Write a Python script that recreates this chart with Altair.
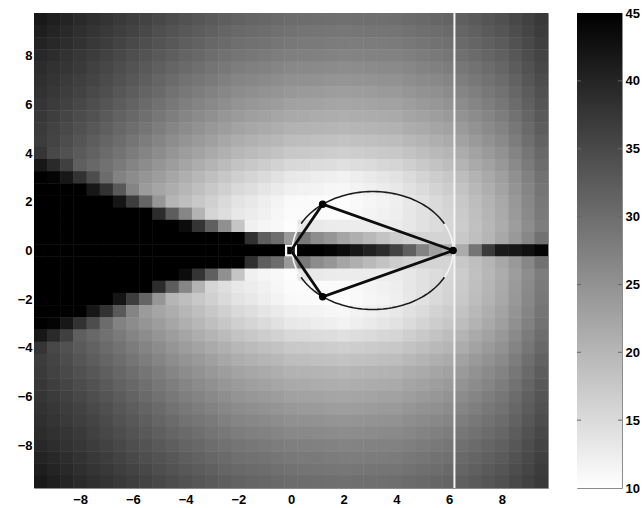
import altair as alt
import numpy as np
import pandas as pd

# ---- grid of the field (cell centres, 0.5 spacing) ----
x_centers = [-9.5, -9.0, -8.5, -8.0, -7.5, -7.0, -6.5, -6.0, -5.5, -5.0, -4.5, -4.0, -3.5,
             -3.0, -2.5, -2.0, -1.5, -1.0, -0.5, 0.0, 0.5, 1.0, 1.5, 2.0, 2.5, 3.0, 3.5,
             4.0, 4.5, 5.0, 5.5, 6.0, 6.5, 7.0, 7.5, 8.0, 8.5, 9.0, 9.5]
y_centers = [9.5, 9.0, 8.5, 8.0, 7.5, 7.0, 6.5, 6.0, 5.5, 5.0, 4.5, 4.0, 3.5, 3.0, 2.5,
             2.0, 1.5, 1.0, 0.5, 0.0, -0.5, -1.0, -1.5, -2.0, -2.5, -3.0, -3.5, -4.0,
             -4.5, -5.0, -5.5, -6.0, -6.5, -7.0, -7.5, -8.0, -8.5, -9.0, -9.5]
# half cell size; a hair over 0.25 so neighbouring cells overlap and leave no seams
cell_half = 0.26

# field values, one list per row (top row first)
v_p95 = [41.6, 40.8, 40.0, 39.2, 38.5, 37.9, 37.2, 36.5, 35.8, 35.1, 34.4, 33.7, 33.2, 32.6, 32.1, 31.5, 31.2, 30.9, 30.5, 30.2, 30.0, 29.9, 29.7, 29.6, 29.7, 29.8, 29.8, 29.9, 30.3, 30.6, 31.0, 31.3, 32.0, 32.6, 33.3, 34.0, 35.1, 36.1, 37.2]
v_p90 = [40.9, 40.1, 39.4, 38.6, 37.9, 37.2, 36.5, 35.8, 35.1, 34.3, 33.6, 32.9, 32.4, 31.8, 31.2, 30.6, 30.3, 30.0, 29.6, 29.3, 29.1, 29.0, 28.8, 28.7, 28.8, 28.9, 28.9, 29.0, 29.4, 29.7, 30.1, 30.5, 31.2, 31.8, 32.6, 33.3, 34.4, 35.5, 36.7]
v_p85 = [40.2, 39.5, 38.8, 38.1, 37.3, 36.6, 35.8, 35.0, 34.3, 33.6, 32.9, 32.1, 31.5, 30.9, 30.4, 29.8, 29.5, 29.2, 28.8, 28.5, 28.3, 28.2, 28.0, 27.8, 27.9, 28.0, 28.0, 28.1, 28.5, 28.9, 29.3, 29.6, 30.4, 31.1, 31.8, 32.5, 33.8, 35.0, 36.2]
v_p80 = [39.5, 38.8, 38.2, 37.5, 36.7, 35.9, 35.1, 34.3, 33.6, 32.8, 32.1, 31.3, 30.7, 30.1, 29.5, 28.9, 28.6, 28.3, 27.9, 27.6, 27.4, 27.3, 27.1, 26.9, 27.0, 27.1, 27.1, 27.2, 27.6, 28.0, 28.4, 28.8, 29.6, 30.3, 31.1, 31.8, 33.1, 34.4, 35.7]
v_p75 = [39.0, 38.3, 37.7, 37.0, 36.1, 35.3, 34.4, 33.6, 32.8, 32.0, 31.2, 30.4, 29.7, 29.1, 28.5, 27.9, 27.5, 27.2, 26.8, 26.4, 26.2, 26.1, 25.9, 25.7, 25.8, 25.9, 26.0, 26.1, 26.5, 27.0, 27.4, 27.8, 28.6, 29.4, 30.2, 31.0, 32.4, 33.7, 35.1]
v_p70 = [38.6, 37.9, 37.1, 36.4, 35.6, 34.7, 33.8, 32.9, 32.1, 31.2, 30.3, 29.4, 28.8, 28.2, 27.5, 26.8, 26.5, 26.1, 25.6, 25.3, 25.1, 24.9, 24.7, 24.5, 24.7, 24.8, 24.9, 25.0, 25.5, 25.9, 26.3, 26.8, 27.7, 28.5, 29.4, 30.2, 31.6, 33.1, 34.5]
v_p65 = [38.1, 37.4, 36.6, 35.9, 35.0, 34.1, 33.1, 32.2, 31.3, 30.4, 29.4, 28.5, 27.8, 27.2, 26.5, 25.8, 25.4, 25.0, 24.5, 24.1, 23.9, 23.7, 23.5, 23.3, 23.5, 23.6, 23.8, 23.9, 24.4, 24.9, 25.3, 25.8, 26.7, 27.6, 28.5, 29.4, 30.9, 32.4, 33.9]
v_p60 = [37.7, 36.9, 36.1, 35.3, 34.3, 33.4, 32.4, 31.4, 30.5, 29.5, 28.5, 27.6, 26.9, 26.2, 25.5, 24.7, 24.3, 23.9, 23.4, 22.9, 22.7, 22.6, 22.4, 22.2, 22.4, 22.5, 22.7, 22.8, 23.3, 23.8, 24.3, 24.8, 25.8, 26.7, 27.7, 28.6, 30.2, 31.8, 33.3]
v_p55 = [37.4, 36.5, 35.5, 34.6, 33.7, 32.6, 31.6, 30.7, 29.7, 28.7, 27.7, 26.7, 25.9, 25.2, 24.4, 23.7, 23.2, 22.7, 22.2, 21.8, 21.6, 21.4, 21.2, 21.0, 21.2, 21.4, 21.5, 21.7, 22.3, 22.8, 23.3, 23.8, 24.8, 25.8, 26.8, 27.8, 29.4, 31.1, 32.8]
v_p50 = [37.0, 36.0, 35.0, 34.0, 33.0, 31.9, 30.9, 29.9, 28.9, 27.8, 26.8, 25.8, 25.0, 24.2, 23.4, 22.6, 22.1, 21.6, 21.1, 20.6, 20.4, 20.3, 20.1, 19.9, 20.1, 20.3, 20.4, 20.6, 21.2, 21.7, 22.3, 22.8, 23.9, 24.9, 26.0, 27.0, 28.7, 30.5, 32.2]
v_p45 = [36.7, 35.6, 34.5, 33.3, 32.3, 31.1, 30.1, 29.0, 27.9, 26.8, 25.7, 24.7, 23.8, 23.0, 22.1, 21.3, 20.7, 20.2, 19.7, 19.1, 18.9, 18.7, 18.5, 18.3, 18.5, 18.7, 18.9, 19.1, 19.8, 20.3, 21.0, 21.5, 22.7, 23.8, 24.9, 26.0, 27.8, 29.7, 31.5]
v_p40 = [37.7, 35.1, 33.9, 32.6, 31.5, 30.3, 29.2, 28.0, 26.9, 25.8, 24.6, 23.5, 22.6, 21.7, 20.8, 19.9, 19.3, 18.8, 18.2, 17.6, 17.4, 17.1, 16.9, 16.6, 16.9, 17.1, 17.4, 17.6, 18.3, 18.9, 19.6, 20.2, 21.4, 22.6, 23.8, 25.0, 26.9, 28.8, 30.7]
v_p35 = [41.8, 39.3, 36.2, 32.0, 30.7, 29.5, 28.2, 26.9, 25.8, 24.6, 23.4, 22.3, 21.3, 20.3, 19.3, 18.3, 17.6, 16.9, 16.2, 15.4, 15.2, 14.8, 14.6, 14.2, 14.7, 15.0, 15.5, 15.8, 16.6, 17.4, 18.2, 19.0, 20.3, 21.6, 22.8, 24.1, 26.1, 28.1, 30.1]
v_p30 = [45.0, 44.5, 41.9, 38.2, 34.4, 30.2, 27.2, 25.8, 24.6, 23.4, 22.2, 21.0, 19.9, 18.8, 17.7, 16.6, 15.8, 14.9, 14.1, 13.2, 12.9, 12.5, 12.2, 11.8, 12.4, 12.9, 13.5, 14.0, 14.9, 15.9, 16.8, 17.7, 19.1, 20.5, 21.8, 23.2, 25.3, 27.3, 29.4]
v_p25 = [45.0, 45.0, 45.0, 45.0, 41.8, 38.1, 32.8, 26.9, 23.7, 22.4, 21.2, 20.0, 18.8, 17.6, 16.4, 15.2, 14.5, 13.6, 12.9, 12.0, 11.8, 11.6, 11.3, 11.1, 11.6, 12.1, 12.6, 13.1, 14.1, 15.0, 16.0, 16.9, 18.3, 19.8, 21.1, 22.6, 24.7, 26.8, 29.0]
v_p20 = [45.0, 45.0, 45.0, 45.0, 45.0, 45.0, 42.1, 36.6, 31.1, 24.4, 20.2, 18.9, 17.6, 16.4, 15.1, 13.8, 13.1, 12.3, 11.6, 10.8, 10.7, 10.6, 10.4, 10.3, 10.8, 11.3, 11.7, 12.2, 13.2, 14.1, 15.1, 16.0, 17.5, 19.0, 20.4, 21.9, 24.1, 26.3, 28.5]
v_p15 = [45.0, 45.0, 45.0, 45.0, 45.0, 45.0, 45.0, 45.0, 45.0, 39.0, 32.3, 26.6, 20.5, 15.8, 14.5, 13.2, 12.6, 11.9, 11.3, 10.6, 10.6, 10.6, 10.5, 10.5, 11.0, 11.5, 11.9, 12.4, 13.3, 14.1, 15.0, 15.8, 17.3, 18.8, 20.2, 21.7, 23.8, 26.0, 28.2]
v_p10 = [45.0, 45.0, 45.0, 45.0, 45.0, 45.0, 45.0, 45.0, 45.0, 45.0, 45.0, 43.3, 37.8, 31.9, 25.2, 17.9, 12.0, 11.4, 10.9, 10.3, 13.5, 13.0, 12.8, 12.6, 12.6, 12.6, 12.6, 12.8, 13.3, 14.1, 14.8, 15.5, 17.0, 18.5, 19.9, 21.4, 23.5, 25.7, 27.8]
v_p05 = [45.0, 45.0, 45.0, 45.0, 45.0, 45.0, 45.0, 45.0, 45.0, 45.0, 45.0, 45.0, 45.0, 45.0, 45.0, 45.0, 38.4, 32.1, 30.0, 24.0, 28.5, 25.8, 24.4, 22.4, 21.0, 19.6, 18.2, 16.9, 16.2, 15.9, 15.9, 15.9, 17.5, 18.8, 20.2, 22.0, 24.0, 26.5, 29.5]
v_000 = [45.0, 45.0, 45.0, 45.0, 45.0, 45.0, 45.0, 45.0, 45.0, 45.0, 45.0, 45.0, 45.0, 45.0, 45.0, 45.0, 45.0, 45.0, 45.0, 45.0, 45.0, 45.0, 44.5, 43.5, 42.0, 40.5, 39.0, 36.0, 32.0, 27.0, 23.0, 21.0, 21.5, 29.0, 37.0, 41.5, 42.0, 43.0, 44.5]
v_m05 = [45.0, 45.0, 45.0, 45.0, 45.0, 45.0, 45.0, 45.0, 45.0, 45.0, 45.0, 45.0, 45.0, 45.0, 45.0, 45.0, 38.4, 32.1, 30.0, 24.0, 28.5, 25.8, 24.4, 22.4, 21.0, 19.6, 18.2, 16.9, 16.2, 15.9, 15.9, 15.9, 17.5, 18.8, 20.2, 22.0, 24.0, 26.5, 29.5]
v_m10 = [45.0, 45.0, 45.0, 45.0, 45.0, 45.0, 45.0, 45.0, 45.0, 45.0, 45.0, 43.3, 37.8, 31.9, 25.2, 17.9, 12.0, 11.4, 10.9, 10.3, 13.5, 13.0, 12.8, 12.6, 12.6, 12.6, 12.6, 12.8, 13.3, 14.1, 14.8, 15.5, 17.0, 18.5, 19.9, 21.4, 23.5, 25.7, 27.8]
v_m15 = [45.0, 45.0, 45.0, 45.0, 45.0, 45.0, 45.0, 45.0, 45.0, 39.0, 32.3, 26.6, 20.5, 15.8, 14.5, 13.2, 12.6, 11.9, 11.3, 10.6, 10.6, 10.6, 10.5, 10.5, 11.0, 11.5, 11.9, 12.4, 13.3, 14.1, 15.0, 15.8, 17.3, 18.8, 20.2, 21.7, 23.8, 26.0, 28.2]
v_m20 = [45.0, 45.0, 45.0, 45.0, 45.0, 45.0, 42.1, 36.6, 31.1, 24.4, 20.2, 18.9, 17.6, 16.4, 15.1, 13.8, 13.1, 12.3, 11.6, 10.8, 10.7, 10.6, 10.4, 10.3, 10.8, 11.3, 11.7, 12.2, 13.2, 14.1, 15.1, 16.0, 17.5, 19.0, 20.4, 21.9, 24.1, 26.3, 28.5]
v_m25 = [45.0, 45.0, 45.0, 45.0, 41.8, 38.1, 32.8, 26.9, 23.7, 22.4, 21.2, 20.0, 18.8, 17.6, 16.4, 15.2, 14.5, 13.6, 12.9, 12.0, 11.8, 11.6, 11.3, 11.1, 11.6, 12.1, 12.6, 13.1, 14.1, 15.0, 16.0, 16.9, 18.3, 19.8, 21.1, 22.6, 24.7, 26.8, 29.0]
v_m30 = [45.0, 44.5, 41.9, 38.2, 34.4, 30.2, 27.2, 25.8, 24.6, 23.4, 22.2, 21.0, 19.9, 18.8, 17.7, 16.6, 15.8, 14.9, 14.1, 13.2, 12.9, 12.5, 12.2, 11.8, 12.4, 12.9, 13.5, 14.0, 14.9, 15.9, 16.8, 17.7, 19.1, 20.5, 21.8, 23.2, 25.3, 27.3, 29.4]
v_m35 = [41.8, 39.3, 36.2, 32.0, 30.7, 29.5, 28.2, 26.9, 25.8, 24.6, 23.4, 22.3, 21.3, 20.3, 19.3, 18.3, 17.6, 16.9, 16.2, 15.4, 15.2, 14.8, 14.6, 14.2, 14.7, 15.0, 15.5, 15.8, 16.6, 17.4, 18.2, 19.0, 20.3, 21.6, 22.8, 24.1, 26.1, 28.1, 30.1]
v_m40 = [37.7, 35.1, 33.9, 32.6, 31.5, 30.3, 29.2, 28.0, 26.9, 25.8, 24.6, 23.5, 22.6, 21.7, 20.8, 19.9, 19.3, 18.8, 18.2, 17.6, 17.4, 17.1, 16.9, 16.6, 16.9, 17.1, 17.4, 17.6, 18.3, 18.9, 19.6, 20.2, 21.4, 22.6, 23.8, 25.0, 26.9, 28.8, 30.7]
v_m45 = [36.7, 35.6, 34.5, 33.3, 32.3, 31.1, 30.1, 29.0, 27.9, 26.8, 25.7, 24.7, 23.8, 23.0, 22.1, 21.3, 20.7, 20.2, 19.7, 19.1, 18.9, 18.7, 18.5, 18.3, 18.5, 18.7, 18.9, 19.1, 19.8, 20.3, 21.0, 21.5, 22.7, 23.8, 24.9, 26.0, 27.8, 29.7, 31.5]
v_m50 = [37.0, 36.0, 35.0, 34.0, 33.0, 31.9, 30.9, 29.9, 28.9, 27.8, 26.8, 25.8, 25.0, 24.2, 23.4, 22.6, 22.1, 21.6, 21.1, 20.6, 20.4, 20.3, 20.1, 19.9, 20.1, 20.3, 20.4, 20.6, 21.2, 21.7, 22.3, 22.8, 23.9, 24.9, 26.0, 27.0, 28.7, 30.5, 32.2]
v_m55 = [37.4, 36.5, 35.5, 34.6, 33.7, 32.6, 31.6, 30.7, 29.7, 28.7, 27.7, 26.7, 25.9, 25.2, 24.4, 23.7, 23.2, 22.7, 22.2, 21.8, 21.6, 21.4, 21.2, 21.0, 21.2, 21.4, 21.5, 21.7, 22.3, 22.8, 23.3, 23.8, 24.8, 25.8, 26.8, 27.8, 29.4, 31.1, 32.8]
v_m60 = [37.7, 36.9, 36.1, 35.3, 34.3, 33.4, 32.4, 31.4, 30.5, 29.5, 28.5, 27.6, 26.9, 26.2, 25.5, 24.7, 24.3, 23.9, 23.4, 22.9, 22.7, 22.6, 22.4, 22.2, 22.4, 22.5, 22.7, 22.8, 23.3, 23.8, 24.3, 24.8, 25.8, 26.7, 27.7, 28.6, 30.2, 31.8, 33.3]
v_m65 = [38.1, 37.4, 36.6, 35.9, 35.0, 34.1, 33.1, 32.2, 31.3, 30.4, 29.4, 28.5, 27.8, 27.2, 26.5, 25.8, 25.4, 25.0, 24.5, 24.1, 23.9, 23.7, 23.5, 23.3, 23.5, 23.6, 23.8, 23.9, 24.4, 24.9, 25.3, 25.8, 26.7, 27.6, 28.5, 29.4, 30.9, 32.4, 33.9]
v_m70 = [38.6, 37.9, 37.1, 36.4, 35.6, 34.7, 33.8, 32.9, 32.1, 31.2, 30.3, 29.4, 28.8, 28.2, 27.5, 26.8, 26.5, 26.1, 25.6, 25.3, 25.1, 24.9, 24.7, 24.5, 24.7, 24.8, 24.9, 25.0, 25.5, 25.9, 26.3, 26.8, 27.7, 28.5, 29.4, 30.2, 31.6, 33.1, 34.5]
v_m75 = [39.0, 38.3, 37.7, 37.0, 36.1, 35.3, 34.4, 33.6, 32.8, 32.0, 31.2, 30.4, 29.7, 29.1, 28.5, 27.9, 27.5, 27.2, 26.8, 26.4, 26.2, 26.1, 25.9, 25.7, 25.8, 25.9, 26.0, 26.1, 26.5, 27.0, 27.4, 27.8, 28.6, 29.4, 30.2, 31.0, 32.4, 33.7, 35.1]
v_m80 = [39.5, 38.8, 38.2, 37.5, 36.7, 35.9, 35.1, 34.3, 33.6, 32.8, 32.1, 31.3, 30.7, 30.1, 29.5, 28.9, 28.6, 28.3, 27.9, 27.6, 27.4, 27.3, 27.1, 26.9, 27.0, 27.1, 27.1, 27.2, 27.6, 28.0, 28.4, 28.8, 29.6, 30.3, 31.1, 31.8, 33.1, 34.4, 35.7]
v_m85 = [40.2, 39.5, 38.8, 38.1, 37.3, 36.6, 35.8, 35.0, 34.3, 33.6, 32.9, 32.1, 31.5, 30.9, 30.4, 29.8, 29.5, 29.2, 28.8, 28.5, 28.3, 28.2, 28.0, 27.8, 27.9, 28.0, 28.0, 28.1, 28.5, 28.9, 29.3, 29.6, 30.4, 31.1, 31.8, 32.5, 33.8, 35.0, 36.2]
v_m90 = [40.9, 40.1, 39.4, 38.6, 37.9, 37.2, 36.5, 35.8, 35.1, 34.3, 33.6, 32.9, 32.4, 31.8, 31.2, 30.6, 30.3, 30.0, 29.6, 29.3, 29.1, 29.0, 28.8, 28.7, 28.8, 28.9, 28.9, 29.0, 29.4, 29.7, 30.1, 30.5, 31.2, 31.8, 32.6, 33.3, 34.4, 35.5, 36.7]
v_m95 = [41.6, 40.8, 40.0, 39.2, 38.5, 37.9, 37.2, 36.5, 35.8, 35.1, 34.4, 33.7, 33.2, 32.6, 32.1, 31.5, 31.2, 30.9, 30.5, 30.2, 30.0, 29.9, 29.7, 29.6, 29.7, 29.8, 29.8, 29.9, 30.3, 30.6, 31.0, 31.3, 32.0, 32.6, 33.3, 34.0, 35.1, 36.1, 37.2]

field_rows = [v_p95, v_p90, v_p85, v_p80, v_p75, v_p70, v_p65, v_p60, v_p55, v_p50,
              v_p45, v_p40, v_p35, v_p30, v_p25, v_p20, v_p15, v_p10, v_p05, v_000,
              v_m05, v_m10, v_m15, v_m20, v_m25, v_m30, v_m35, v_m40, v_m45, v_m50,
              v_m55, v_m60, v_m65, v_m70, v_m75, v_m80, v_m85, v_m90, v_m95]

# ---- geometry overlaid on the field ----
poly_x = [0.0, 1.2, 6.15, 1.2, 0.0]
poly_y = [0.0, 1.9, 0.0, -1.9, 0.0]
node_x = [1.2, 6.15, 1.2]
node_y = [1.9, 0.0, -1.9]
origin_x = [0.0]
origin_y = [0.0]
ellipse_center = (3.1, 0.0)
ellipse_axes = (3.05, 2.42)
ellipse_light_deg = 27          # arcs near the major axis drawn light
white_line_x = [6.2]

axis_ticks = [-8, -6, -4, -2, 0, 2, 4, 6, 8]
cbar_limits = [10, 45]
cbar_ticks = [10, 15, 20, 25, 30, 35, 40, 45]
cbar_inner_ticks = [15, 20, 25, 30, 35, 40]

# ---- tables ----
recs = []
for yc, row in zip(y_centers, field_rows):
    for xc, v in zip(x_centers, row):
        recs.append({"x0": xc - cell_half, "x1": xc + cell_half,
                     "y0": yc - cell_half, "y1": yc + cell_half, "v": v})
grid = pd.DataFrame(recs)

poly = pd.DataFrame({"x": poly_x, "y": poly_y, "k": range(len(poly_x))})
nodes = pd.DataFrame({"x": node_x, "y": node_y})
origin = pd.DataFrame({"x": origin_x, "y": origin_y})
wline = pd.DataFrame({"x": white_line_x})

cx, cy = ellipse_center
ea, eb = ellipse_axes
d = ellipse_light_deg
arc_spans = [(-d, d, "light"), (d, 180 - d, "dark"),
             (180 - d, 180 + d, "light"), (180 + d, 360 - d, "dark")]
arc_recs = []
for i, (a0, a1, kind) in enumerate(arc_spans):
    for j, t in enumerate(np.radians(np.linspace(a0, a1, 60))):
        arc_recs.append({"x": cx + ea * np.cos(t), "y": cy + eb * np.sin(t),
                         "arc": i, "k": j, "kind": kind})
arcs = pd.DataFrame(arc_recs)

# ---- scales ----
xs = alt.Scale(domain=[-9.75, 9.75], nice=False, zero=False)
ys = alt.Scale(domain=[-9.75, 9.75], nice=False, zero=False)
cscale = alt.Scale(domain=cbar_limits, range=["#ffffff", "#000000"],
                   interpolate="rgb", clamp=True)

FONT = "Liberation Sans"
x_axis = alt.Axis(values=axis_ticks, title=None, grid=False, ticks=False, domain=False,
                  labelFont=FONT, labelFontSize=13, labelFontWeight="bold",
                  labelColor="#000000", labelPadding=5)
y_axis = alt.Axis(values=axis_ticks, title=None, grid=False, ticks=False, domain=False,
                  labelFont=FONT, labelFontSize=13, labelFontWeight="bold",
                  labelColor="#000000", labelPadding=2)

heat = alt.Chart(grid).mark_rect(clip=True).encode(
    x=alt.X("x0:Q", scale=xs, axis=x_axis),
    x2="x1:Q",
    y=alt.Y("y0:Q", scale=ys, axis=y_axis),
    y2="y1:Q",
    color=alt.Color("v:Q", scale=cscale, legend=None),
)

vline = alt.Chart(wline).mark_rule(color="#f4f4f4", strokeWidth=2).encode(
    x=alt.X("x:Q", scale=xs))

ellipse = alt.Chart(arcs).mark_line(strokeWidth=1.6).encode(
    x=alt.X("x:Q", scale=xs),
    y=alt.Y("y:Q", scale=ys),
    detail="arc:N",
    order="k:Q",
    color=alt.Color("kind:N", scale=alt.Scale(domain=["dark", "light"],
                                              range=["#1c1c1c", "#f4f4f4"]),
                    legend=None),
)

square = alt.Chart(origin).mark_point(shape="square", filled=False, color="#ffffff",
                                      strokeWidth=2.2, size=95, opacity=1).encode(
    x=alt.X("x:Q", scale=xs), y=alt.Y("y:Q", scale=ys))

polygon = alt.Chart(poly).mark_line(color="#0d0d0d", strokeWidth=2.8).encode(
    x=alt.X("x:Q", scale=xs), y=alt.Y("y:Q", scale=ys), order="k:Q")

dots = alt.Chart(nodes).mark_circle(color="#000000", size=55, opacity=1).encode(
    x=alt.X("x:Q", scale=xs), y=alt.Y("y:Q", scale=ys))

main = alt.layer(heat, vline, ellipse, square, polygon, dots).properties(
    width=514, height=475)

# ---- colour bar ----
cbar_df = pd.DataFrame({"lo": [cbar_limits[0]], "hi": [cbar_limits[1]]})
cb_scale = alt.Scale(domain=cbar_limits, nice=False, zero=False)
cb_axis = alt.Axis(orient="right", values=cbar_ticks, title=None, grid=False, ticks=False,
                   domain=False, labelFont=FONT, labelFontSize=13, labelFontWeight="bold",
                   labelColor="#000000", labelPadding=3)
ramp = alt.Chart(cbar_df).mark_rect(
    color=alt.LinearGradient(
        gradient="linear",
        stops=[alt.GradientStop(color="#ffffff", offset=0),
               alt.GradientStop(color="#000000", offset=1)],
        x1=0, x2=0, y1=1, y2=0),
).encode(
    y=alt.Y("lo:Q", scale=cb_scale, axis=cb_axis),
    y2="hi:Q",
    x=alt.value(0), x2=alt.value(45),
)
tick_df = pd.DataFrame({"t": cbar_inner_ticks})
ticks_l = alt.Chart(tick_df).mark_rule(color="#666666", strokeWidth=1).encode(
    y=alt.Y("t:Q", scale=cb_scale), x=alt.value(0), x2=alt.value(4))
ticks_r = alt.Chart(tick_df).mark_rule(color="#666666", strokeWidth=1).encode(
    y=alt.Y("t:Q", scale=cb_scale), x=alt.value(41), x2=alt.value(45))
cbar = alt.layer(ramp, ticks_l, ticks_r).properties(width=45, height=475)

chart = alt.hconcat(main, cbar, spacing=27).properties(
    padding={"left": 16, "top": 6, "right": 0, "bottom": 0},
    background="#ffffff",
).configure_view(stroke="#8c8c8c", strokeWidth=1)

chart.save("out.html", embed_options={"renderer": "svg", "actions": False})
